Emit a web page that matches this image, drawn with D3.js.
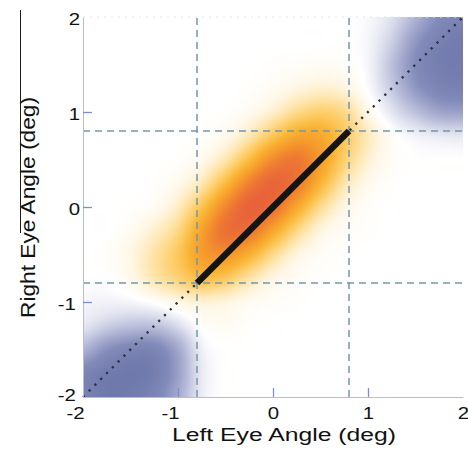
<!DOCTYPE html>
<html>
<head>
<meta charset="utf-8">
<script src="https://cdn.jsdelivr.net/npm/d3@7"></script>
<style>
  html, body { margin: 0; padding: 0; background: #ffffff; }
  svg { display: block; }
  text { font-family: "Liberation Sans", Arial, Helvetica, sans-serif; fill: #111; }
</style>
</head>
<body>
<svg id="chart" width="468" height="460"></svg>
<script>
// ---- data -------------------------------------------------------------
// Binocular response sampled every 0.25 deg. Columns: left eye angle -2 .. 2.
// Rows: right eye angle from 2 (top) down to -2 (bottom).
const gridStep = 0.25;
const leftEyeAngles = d3.range(-2, 2 + 1e-9, gridStep);
const rightEyeAngles = d3.range(2, -2 - 1e-9, -gridStep);
const response = [
  [0,0,0,0,0,0,0,0,0,0,0,0,-0.02,-0.10,-0.25,-0.40,-0.46],
  [0,0,0,0,0,0,0,0,0,0,0,0,-0.03,-0.15,-0.35,-0.48,-0.52],
  [0,0,0,0,0,0,0,0,0.01,0.02,0.03,0.02,-0.03,-0.20,-0.40,-0.50,-0.52],
  [0,0,0,0,0,0,0,0.01,0.04,0.09,0.13,0.10,-0.01,-0.17,-0.35,-0.45,-0.48],
  [0,0,0,0,0,0,0.01,0.05,0.14,0.27,0.34,0.28,0.07,-0.08,-0.20,-0.30,-0.32],
  [0,0,0,0,0,0.01,0.06,0.19,0.39,0.56,0.56,0.38,0.17,0.02,-0.04,-0.07,-0.08],
  [0,0,0,0,0.01,0.06,0.20,0.45,0.72,0.82,0.63,0.34,0.13,0.03,0,0,0],
  [0,0,0,0.01,0.06,0.19,0.46,0.77,0.93,0.82,0.50,0.21,0.06,0.01,0,0,0],
  [0,0,0.01,0.04,0.16,0.41,0.74,0.95,0.87,0.57,0.27,0.09,0.02,0,0,0,0],
  [0,0,0.04,0.14,0.29,0.60,0.86,0.84,0.58,0.29,0.10,0.03,0.01,0,0,0,0],
  [0,0.02,0.08,0.22,0.38,0.62,0.68,0.52,0.28,0.10,0.03,0.01,0,0,0,0,0],
  [0,0,0.06,0.20,0.32,0.44,0.38,0.22,0.09,0.03,0.01,0,0,0,0,0,0],
  [-0.03,-0.04,-0.03,0.01,0.08,0.12,0.10,0.05,0.02,0.01,0,0,0,0,0,0,0],
  [-0.08,-0.15,-0.20,-0.20,-0.11,0.01,0.04,0.01,0,0,0,0,0,0,0,0,0],
  [-0.25,-0.38,-0.45,-0.45,-0.29,-0.05,0,0,0,0,0,0,0,0,0,0,0],
  [-0.45,-0.52,-0.54,-0.50,-0.32,-0.07,0,0,0,0,0,0,0,0,0,0,0],
  [-0.47,-0.54,-0.52,-0.45,-0.28,-0.06,0,0,0,0,0,0,0,0,0,0,0]
];

// Colour map: negative = slate blue, positive = yellow -> orange -> red.
const colorStops  = [-0.55, -0.4, -0.2, 0, 0.08, 0.2, 0.35, 0.5, 0.65, 0.8, 0.95];
const colorValues = ["#6f78ab", "#838bba", "#bcc0db", "#ffffff", "#fff7e6", "#fee6b0",
                     "#fdcd68", "#f9b333", "#f5992c", "#ee7b31", "#e8623a"];

const xTicks = [-2, -1, 0, 1, 2];
const yTicks = [-2, -1, 0, 1, 2];
const fixationBounds = [-0.8, 0.8];    // dashed guide positions
const matchedSegment = [-0.8, 0.8];    // solid diagonal segment extent
const xTitle = "Left Eye Angle (deg)";
const yTitle = "Right Eye Angle (deg)";

// ---- scales -----------------------------------------------------------
const x = d3.scaleLinear().domain([-2, 2]).range([83, 463]);
const y = d3.scaleLinear().domain([-2, 2]).range([397, 17]);
const color = d3.scaleLinear().domain(colorStops).range(colorValues)
  .interpolate(d3.interpolateRgb).clamp(true);

const svg = d3.select("#chart");

// ---- heat map raster (bicubic resampling of the response grid) --------
const pw = Math.round(x(2) - x(-2));
const ph = Math.round(y(-2) - y(2));
const canvas = document.createElement("canvas");
canvas.width = pw; canvas.height = ph;
const ctx = canvas.getContext("2d");
const img = ctx.createImageData(pw, ph);
const nR = response.length, nC = response[0].length;

function cell(r, c) {
  r = Math.max(0, Math.min(nR - 1, r));
  c = Math.max(0, Math.min(nC - 1, c));
  return response[r][c];
}
function catmull(p0, p1, p2, p3, t) {
  return 0.5 * (2 * p1 + (-p0 + p2) * t + (2 * p0 - 5 * p1 + 4 * p2 - p3) * t * t +
    (-p0 + 3 * p1 - 3 * p2 + p3) * t * t * t);
}
function sample(gc, gr) {
  const c = Math.floor(gc), r = Math.floor(gr);
  const tc = gc - c, tr = gr - r;
  const col = [];
  for (let k = -1; k <= 2; k++) {
    col.push(catmull(cell(r + k, c - 1), cell(r + k, c), cell(r + k, c + 1), cell(r + k, c + 2), tc));
  }
  return catmull(col[0], col[1], col[2], col[3], tr);
}

for (let py = 0; py < ph; py++) {
  const yv = y.invert(y(2) + py + 0.5);
  const gr = (rightEyeAngles[0] - yv) / gridStep;
  for (let px = 0; px < pw; px++) {
    const xv = x.invert(x(-2) + px + 0.5);
    const gc = (xv - leftEyeAngles[0]) / gridStep;
    const c = d3.rgb(color(sample(gc, gr)));
    const o = (py * pw + px) * 4;
    img.data[o] = c.r; img.data[o + 1] = c.g; img.data[o + 2] = c.b; img.data[o + 3] = 255;
  }
}
ctx.putImageData(img, 0, 0);

svg.append("image")
  .attr("x", x(-2)).attr("y", y(2))
  .attr("width", pw).attr("height", ph)
  .attr("preserveAspectRatio", "none")
  .attr("href", canvas.toDataURL());

// faint upper frame
svg.append("line")
  .attr("x1", x(-2)).attr("x2", x(2)).attr("y1", y(2)).attr("y2", y(2))
  .attr("stroke", "#e4e7f1").attr("stroke-width", 1).attr("stroke-dasharray", "2,5");

// ---- dashed guide lines -----------------------------------------------
const guides = svg.append("g").attr("fill", "none")
  .attr("stroke", "#7497a8").attr("stroke-width", 1.5).attr("stroke-dasharray", "7,5");
guides.selectAll("line.v").data(fixationBounds).join("line").attr("class", "v")
  .attr("x1", d => x(d)).attr("x2", d => x(d)).attr("y1", y(-2)).attr("y2", y(2));
guides.selectAll("line.h").data(fixationBounds).join("line").attr("class", "h")
  .attr("y1", d => y(d)).attr("y2", d => y(d)).attr("x1", x(-2)).attr("x2", x(2));

// ---- identity diagonal (dotted) and matched segment (solid) ------------
svg.append("line")
  .attr("x1", x(-2)).attr("y1", y(-2)).attr("x2", x(2)).attr("y2", y(2))
  .attr("stroke", "#27323c").attr("stroke-width", 2.3).attr("stroke-dasharray", "2.2,6");

svg.append("line")
  .attr("x1", x(matchedSegment[0])).attr("y1", y(matchedSegment[0]))
  .attr("x2", x(matchedSegment[1])).attr("y2", y(matchedSegment[1]))
  .attr("stroke", "#141414").attr("stroke-width", 6.5);

// ---- axes -------------------------------------------------------------
const fmt = d => d3.format("d")(d).replace("\u2212", "-");

const yAxis = svg.append("g").attr("transform", `translate(${x(-2)},0)`)
  .call(d3.axisLeft(y).tickValues(yTicks).tickSizeInner(-9).tickSizeOuter(0).tickPadding(0).tickFormat(fmt));
const xAxis = svg.append("g").attr("transform", `translate(0,${y(-2)})`)
  .call(d3.axisBottom(x).tickValues(xTicks).tickSizeInner(-9).tickSizeOuter(0).tickPadding(0).tickFormat(fmt));

[xAxis, yAxis].forEach(g => {
  g.select(".domain").attr("stroke", "#b3bedb").attr("stroke-width", 1);
  g.selectAll(".tick line").attr("stroke", "#7d8fd2").attr("stroke-width", 1.3)
    .attr("display", d => (Math.abs(d) === 2 ? "none" : null));
  g.selectAll(".tick text").attr("fill", "#111").attr("font-size", 17)
    .attr("font-family", "Liberation Sans, Arial, Helvetica, sans-serif");
});

yAxis.selectAll(".tick text")
  .attr("text-anchor", "end")
  .attr("x", d => (d < 0 ? -6 : -2.5))
  .attr("dy", null)
  .attr("y", d => (d === -2 ? 3.5 : 7))
  .attr("transform", "scale(1.2,1)");

xAxis.selectAll(".tick text")
  .attr("text-anchor", "middle")
  .attr("x", d => (d < 0 ? -6.7 : 0))
  .attr("dy", null)
  .attr("y", 22)
  .attr("transform", "scale(1.2,1)");

// ---- axis titles ------------------------------------------------------
svg.append("text")
  .attr("x", 172).attr("y", 441)
  .attr("font-size", 17.5)
  .attr("textLength", 224).attr("lengthAdjust", "spacingAndGlyphs")
  .text(xTitle);

svg.append("text")
  .attr("transform", "translate(35,318) rotate(-90)")
  .attr("font-size", 21)
  .attr("textLength", 221).attr("lengthAdjust", "spacingAndGlyphs")
  .text(yTitle);

// panel edge rule on the far left
svg.append("line")
  .attr("x1", 20.5).attr("x2", 20.5).attr("y1", 10).attr("y2", 233)
  .attr("stroke", "#1c1c1c").attr("stroke-width", 1);
</script>
</body>
</html>
